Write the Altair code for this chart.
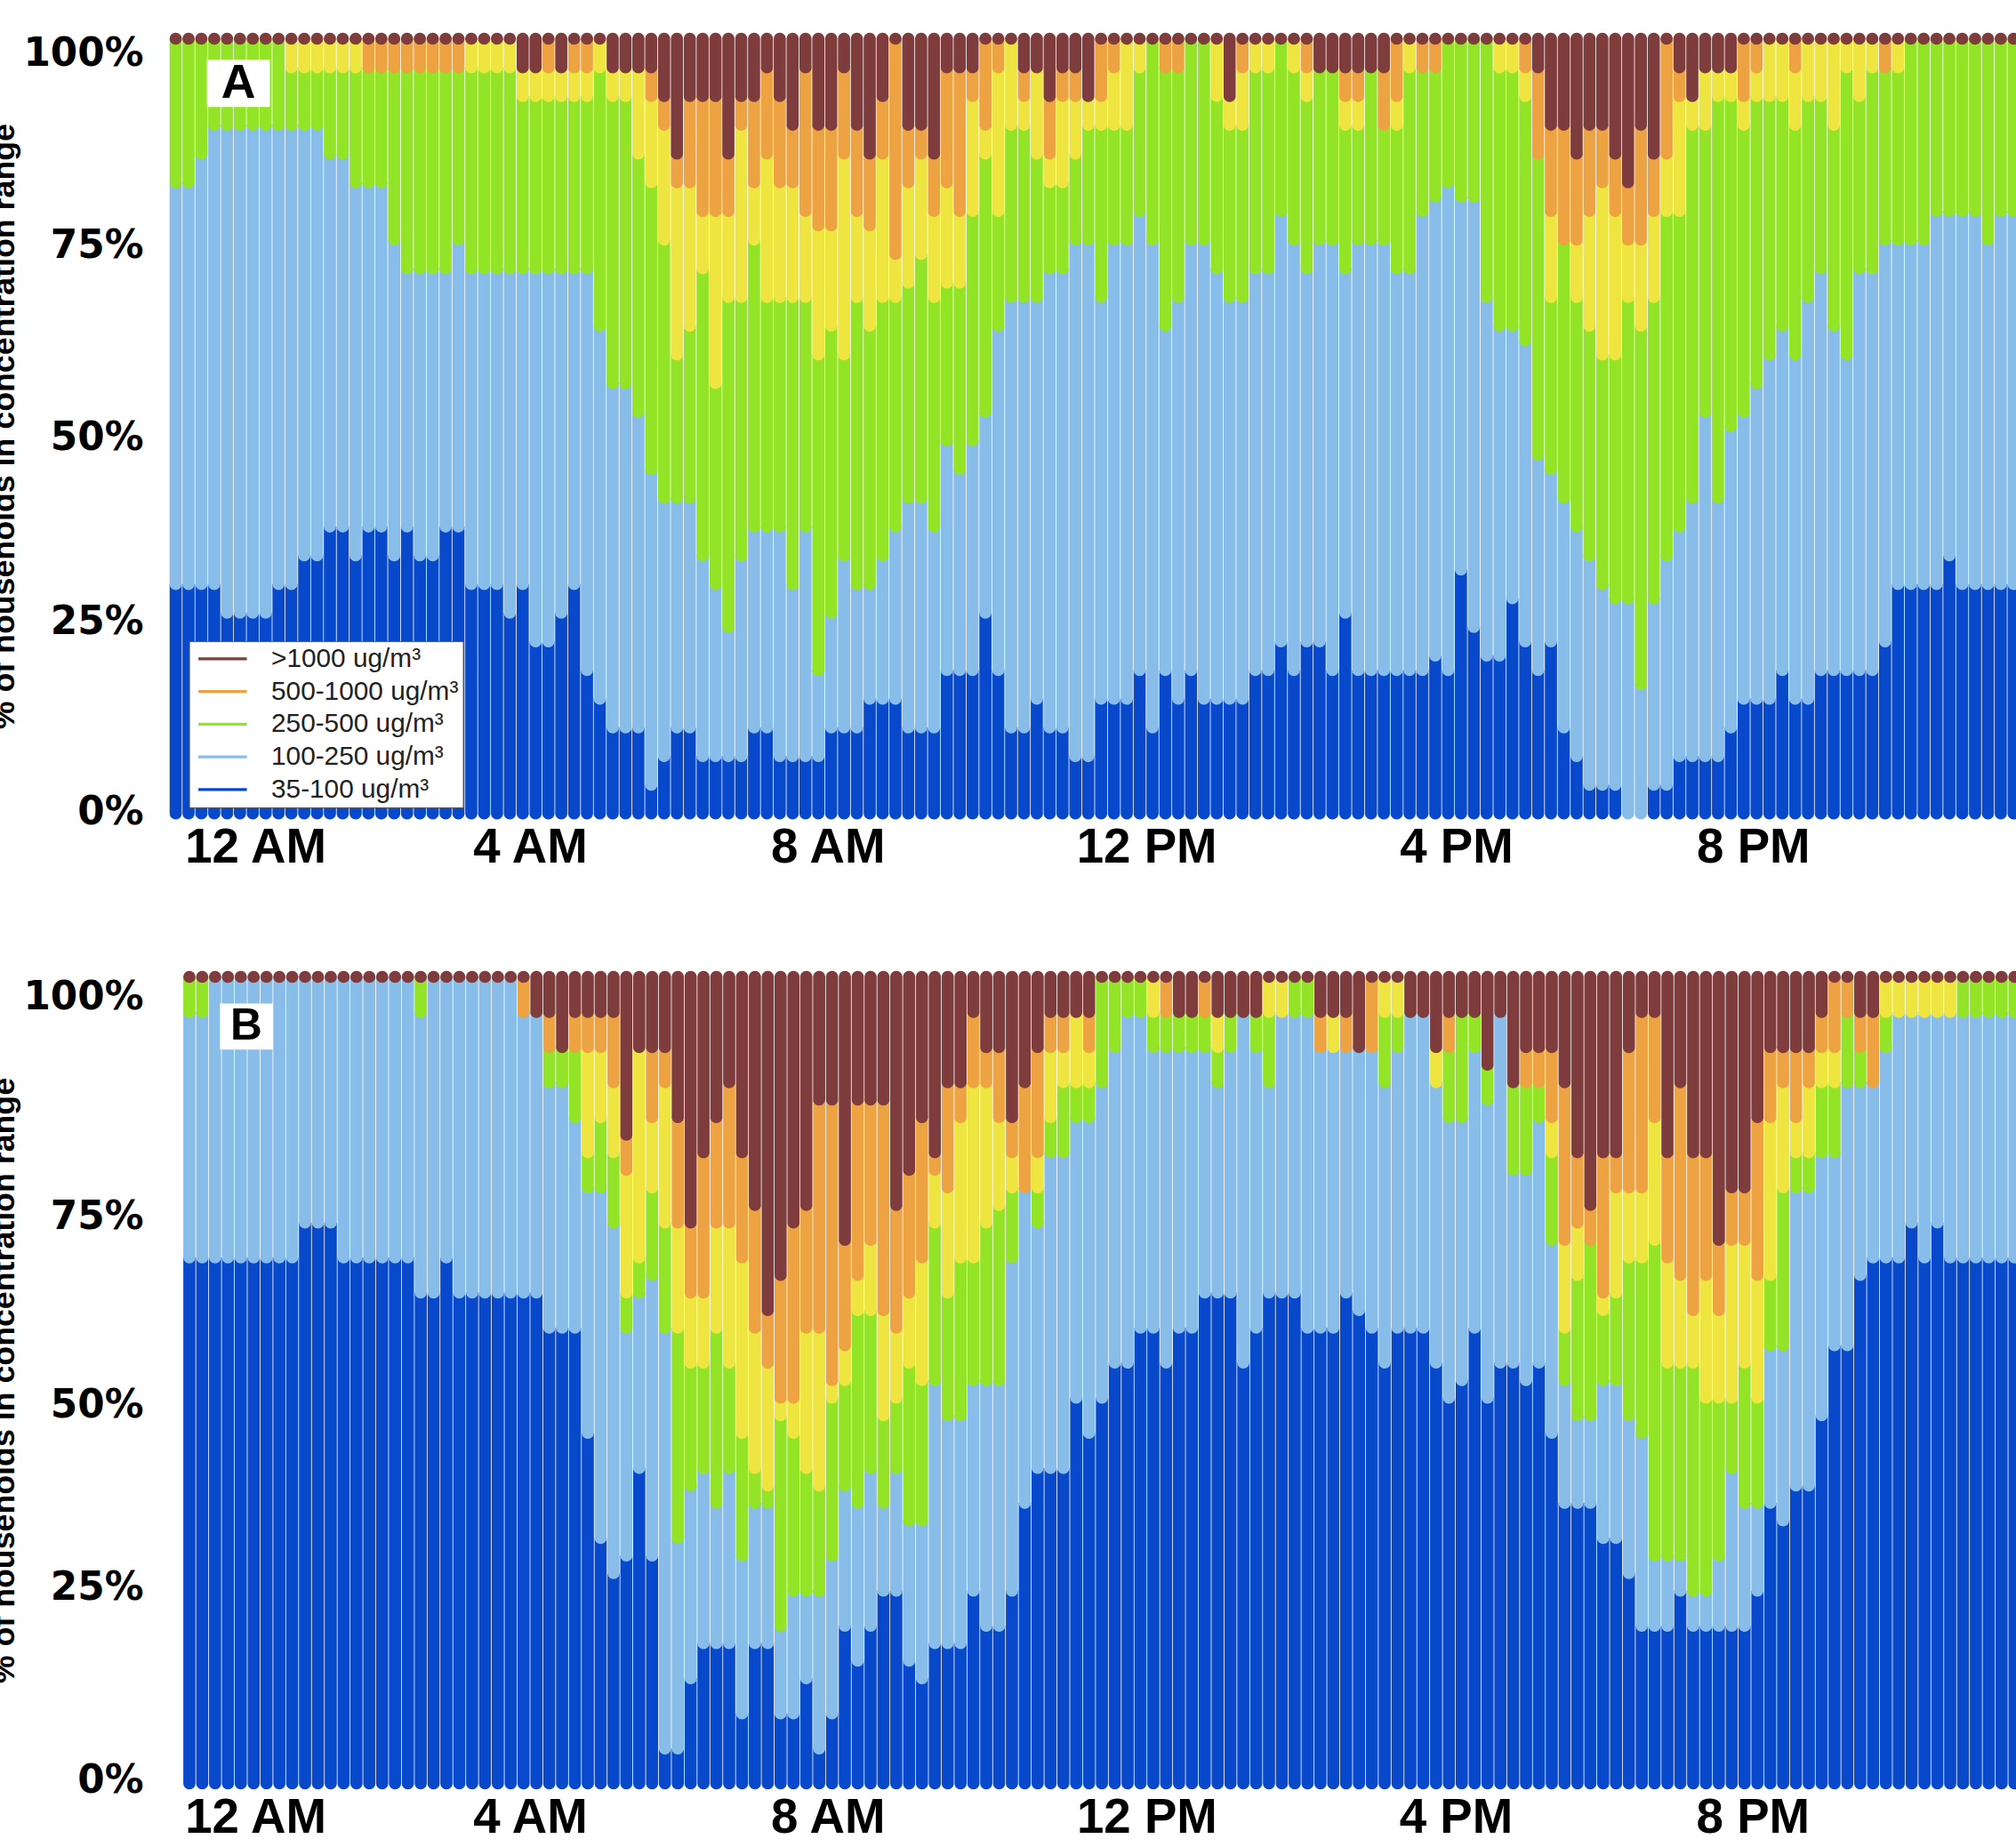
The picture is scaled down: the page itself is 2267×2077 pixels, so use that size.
import altair as alt
import numpy as np
import pandas as pd

SLOTS = 144            # 10-minute intervals over 24 h
N_A = 27               # households monitored, panel A
N_B = 23               # households monitored, panel B

CATEGORIES = ["35-100 ug/m³", "100-250 ug/m³", "250-500 ug/m³",
              "250-500 ug/m³ (upper)", "500-1000 ug/m³", ">1000 ug/m³"]
COLORS = ["#0849cc", "#88bde9", "#93e426", "#eee541", "#eda342", "#7e3c3c"]
LEGEND_VALUES = [">1000 ug/m³", "500-1000 ug/m³", "250-500 ug/m³",
                 "100-250 ug/m³", "35-100 ug/m³"]

X_LABELS = ["12 AM", "4 AM", "8 AM", "12 PM", "4 PM", "8 PM"]
Y_TITLE = "% of households in concentration range"

# ---- Panel A: cumulative household counts (top of each band), out of N_A ----
A_DB = ([8,8,8,8,7,7,7,7,8,8,9,9,10,10,9,10,10,9,10,9,9,10,10,8,8,8,7,8,6,6,7,8,5,4,3,3,3,1,2,3,3,2,2,2,2,3,3,2]
        + [2,2,2,3,3,3,4,4,4,3,3,3,5,5,5,7,5,3,3,4,3,3,2,2,4,4,4,5,3,5,4,5,4,4,4,4,5,5,6,5,6,6,5,7,5,5,5]
        + [5,5,5,5.5,5,8.5,6.5,5.5,5.5,7.5,6,5,6,3,2,1,1,1,0,0,1,1,2,2,2,2,3,4,4,4,5,4,4,5,5,5,5,5,6,8,8,8,8,9,8,8,8,8,8])
A_LB = ([22,22,23,24,24,24,24,24,24,24,24,24,23,23,22,22,22,20,19,19,19,19,20,19,19,19,19,19,19,19,19,19,19,17,15,15,14,12,11,11,11,9,8,6.5,9,10,10,10]
        + [8,10,5,7,9,8,8,9,10,11,11,10,13,12,13,14,17,18,18,18,19,19,20,20,18,20,20,21,20,17,18,20,20,19,18,18,19,19,21,20,19,20,20,19,20,20,20]
        + [19,19,21,21.5,22,21.5,21.5,18,17,17,16.5,12.5,12,11,10,9,8,7.5,7.5,4.5,7.5,9,10,11,14,11,13.5,14,15,16,17,16,18,19,17,16,19,19,20,20,20,20,21,21,21,21,20,21,21])
A_G = ([27]*9 + [26]*18 + [25,25,25,25,25,25,26,25,25,23,22,20,16,17,19,15,18,18,20,18,18]
       + [18,18,16,17,16,18,17,18,18,18.5,19.5,18,18.5,18.5,21,23,21,24,24,23,22,22,23,24,24,24,24,26,27,26,26,27,27,25,24,24,26,26,27,26,25,26,26,24,24,26,24]
       + [24,26,26,26,27,27,27,27,26,26,25,23,18,20,18,17,16,16,18,17,18,21,21,24,24,25,25,24,25,25,25,24,25,25,24,26,25,26,26,26,27,27,27,27,27,27,27,27,27])
A_Y = ([27]*15 + [26]*8 + [27]*4 + [26,26,26,26,26,26,27,26,26,26,25,24,22,22,21,21,21,24,22,23,22]
       + [22,21,20.5,20.5,23,21,20.5,23,19.5,22,23,21,22,21,25,24,26,27,25,26,23,25,25,25,25,26,27,27,27,26,26,27,27,27,25,26,27,27,27,27,26,26,26,25,25,26,24]
       + [25,27,26,26,27,27,27,27,27,27,26,23,21,20,20,21,22,21,20,20,21,23,25,25,26,26,26,25,26,27,27,26,27,27,27,27,27,27,26,27,27,27,27,27,27,27,27,27,27])
A_O = ([27]*27 + [26,26,27,26,27,27,27,26,26,26,26,25,23,25,25,25,23,25,25,26,25]
       + [24,26,24,24,26,24,23,25,27,24,24,23,26,26,26,27,27,27,26,26,25,26,26,25,27,27,27,27,27,27,27,27,27,27,25,27,27,27,27,27,27,26,26,26,26,26,26]
       + [27,27,27,27,27,27,27,27,27,27,27,26,24,24,23,24,24,23,22,24,23,27,26,25,26,26,26] + [27]*22)

# ---- Panel B: cumulative household counts (top of each band), out of N_B ----
B_DB = ([15]*9 + [16]*3 + [15]*6 + [14,14] + [15] + [14]*7 + [13]*3 + [10,7,6,6.5,9,6.5,1,1,3,4,4,4,2,4,4,2,2]
        + [3,1,2,4.5,3.5,4.5,5.5,5.5,3.5,3,4,4,4,5.5,4.5,4.5,5.5,8,9,9,9,11,10,11,12,12,13,13,12,13,13,14,14,14,12,13,14,14,14,13,13,13,14,13.5,13,12,13]
        + [13,13,12,11,11.5,13,11,12,12,11.5,12,10,8,8,8,7,7,6,4.5,4.5,4.5,5.5,4.5,4.5,4.5,4.5,4.5,5.5,8,7.5,8.5,8.5,10.5,12.5,12.5,14.5,15,15,15,16,15,16,15,15,15,15,15,15,15])
B_LB = ([22,22] + [23]*16 + [22] + [23]*7 + [22,22] + [20,20,19,17,17,16,13,14,14.5,13,7,8.5,9,8,9,6.5,8,8,4.5,5.5]
        + [5.5,5.5,6.5,8.5,8,9,8,9,7.5,7.5,11.5,10.5,10.5,11.5,11.5,11.5,15,17,16,18,18,19,19,20,21,22,22,21,21,21,21,21,20,21,22,21,20,22,22,22,21,21,21,21,21,20,21]
        + [22,22,20,19,19,21,19.5,22,17.5,17.5,19,15.5,11.5,10.5,10.5,11.5,11.5,10.5,10,6.5,6.5,6.5,5.5,5.5,6.5,9,8,8,12.5,12.5,17,17,18,18,20,20,20,21,22,22,22,22,22,22,22,22,22,22,22])
B_G = ([23]*26 + [22,22,21,21,21,18,19,18,14,15,17,16,13,12,12,13,12,10,9,8.5,10.5,10]
       + [9,8.5,11,11.5,13.5,13.5,10.5,11,12,11.5,16,14,15,15,16,16.5,17,17,17,19,20,20,20,23,23,23,23,22,22,22,22,22,21,22,22,22,22,22,23,23,21,21,21,21,21,22,22]
       + [22,22,20,21,22,22,20.5,22,20,20,20,18,13,14.5,15.5,13.5,14,15,15,15.5,12,12,12,11,11,11,12,11,14.5,17,18,18,20,20,22,21,20,22,22,22,22,22,22,23,23,23,23,23,23])
B_Y = ([23]*26 + [22,22,21,21,21,21,21,20,17.5,21,19,20,16,14,14,16,16,15,13,12,11,11]
       + [13,13,11.5,12.5,14.5,15.5,13.5,13,14,15,17.5,17,19,20,20,19,18,17,18,21,21,22,21,23,23,23,23,23,22,22,22,22,22,22,22,22,23,23,23,23,21,22,21,21,21,23,23]
       + [22,22,21,21,22,22,20.5,22,20,20,20,19,15.5,16,15.5,14,17,17,17,19,15,14.5,13.5,14.5,13.5,15.5,15.5,14.5,19,20,19,20,21,21,22,21,20] + [23]*12)
B_O = ([23]*27 + [22,22,21,22,22,22,22,18.5,21,21,21,19,16,18,19,20,18,16.5,13.5,14.5,16]
       + [16.5,19.5,19.5,15.5,19.5,19.5,19.5,16.5,17.5,19,18,20,20,22,21,21,19,20,21,22,22,22,22,23,23,23,23,23,23,22,22,23,22,22,22,22,23,23,23,23,22,22,22,21,23,23,23]
       + [22,22,21,22,22,22,20.5,22,20,21,21,21,20,18,16.5,18,18,21,22,22,18,20,18,18,15.5,17,17,19,21,21,21,21,22,23,23,22,22] + [23]*12)


def long_table(tops, n):
    rows = []
    lower = np.zeros(SLOTS)
    bounds = [np.asarray(t, dtype=float) for t in tops] + [np.full(SLOTS, float(n))]
    for rank, upper in enumerate(bounds):
        upper = np.maximum(upper, lower)
        for i in range(SLOTS):
            rows.append({"slot": i, "slot_end": i + 1, "range": CATEGORIES[rank], "rank": rank,
                         "lo": lower[i] * 100.0 / n, "hi": upper[i] * 100.0 / n})
        lower = upper
    return pd.DataFrame(rows)


df_a = long_table([A_DB, A_LB, A_G, A_Y, A_O], N_A)
df_b = long_table([B_DB, B_LB, B_G, B_Y, B_O], N_B)

WIDTH = 2095
R = 6.8
X_EXPR = ("datum.value < 15 ? '12 AM' : datum.value < 40 ? '4 AM' : datum.value < 63 ? '8 AM' : "
          "datum.value < 88 ? '12 PM' : datum.value < 112 ? '4 PM' : '8 PM'")


def panel(df, x_domain, x_ticks, y_ticks, height, box, letter, letter_size, legend):
    xaxis = alt.Axis(values=x_ticks, labelExpr=X_EXPR, title=None, ticks=False, domain=False,
                     grid=False, labelFont="Liberation Sans", labelFontWeight="bold",
                     labelFontSize=55, labelColor="black", labelPadding=12,
                     labelFlush=False, labelOverlap=False)
    yaxis = alt.Axis(values=y_ticks, labelExpr="round(datum.value / 25) * 25 + '%'",
                     title=Y_TITLE, titleFont="Liberation Sans", titleFontWeight="bold",
                     titleFontSize=36, titleColor="black", titlePadding=2,
                     ticks=False, domain=False, grid=False, labelFont="DejaVu Sans",
                     labelFontWeight="bold", labelFontSize=44, labelColor="black",
                     labelPadding=30, labelOverlap=False)
    xs = alt.Scale(domain=x_domain, nice=False, zero=False)
    ys = alt.Scale(domain=[0, 100], nice=False)

    def X():
        return alt.X("slot:Q", scale=xs, axis=xaxis)

    def Y():
        return alt.Y("hi:Q", scale=ys, axis=yaxis)

    color = alt.Color("range:N", scale=alt.Scale(domain=CATEGORIES, range=COLORS), legend=legend)
    base = alt.Chart(df).encode(x=X(), x2="slot_end:Q", y=Y(), y2="lo:Q", color=color)
    bands = base.transform_filter("datum.rank < 5 && datum.hi > datum.lo").mark_bar(
        cornerRadiusBottomLeft=R, cornerRadiusBottomRight=R, y2Offset=R, x2Offset=-0.8)
    top = base.transform_filter("datum.rank == 5").mark_bar(
        cornerRadius=R, yOffset=-R, y2Offset=R, x2Offset=-0.8)
    box_df = pd.DataFrame([{"slot": box[0], "slot_end": box[1], "lo": box[2], "hi": box[3]}])
    box_layer = alt.Chart(box_df).mark_rect(color="white").encode(
        x=X(), x2="slot_end:Q", y=Y(), y2="lo:Q")
    letter_df = pd.DataFrame([{"slot": letter[0], "hi": letter[1], "t": letter[2]}])
    letter_layer = alt.Chart(letter_df).mark_text(
        font="Liberation Sans", fontWeight="bold", fontSize=letter_size, color="black",
        baseline="middle", align="center").encode(x=X(), y=Y(), text="t:N")
    return alt.layer(bands, top, box_layer, letter_layer).properties(width=WIDTH, height=height)


legend_a = alt.Legend(values=LEGEND_VALUES, orient="none", legendX=22, legendY=682, title=None,
                      symbolType="M-1.83,-0.11L1.83,-0.11L1.83,0.11L-1.83,0.11Z", symbolSize=900,
                      symbolStrokeWidth=0, symbolOpacity=1, symbolOffset=18,
                      labelFont="Liberation Sans", labelFontSize=30, labelColor="#222",
                      labelOffset=40, labelLimit=500,
                      fillColor="white", strokeColor="#555", padding=5, rowPadding=7)

panel_a = panel(df_a, [0, 144], [6.67, 28.04, 51.2, 76.0, 100.1, 123.2],
                [0.1, 24.7, 48.5, 73.3, 98.1], 877,
                (2.9, 7.8, 91.2, 97.3), (5.35, 94.2, "A"), 54, legend_a)
panel_b = panel(df_b, [-1.065, 142.935], [5.6, 26.98, 50.14, 74.95, 99.0, 122.1],
                [0.3, 24.3, 46.9, 70.2, 97.5], 913,
                (2.85, 6.98, 91.0, 96.7), (4.9, 93.85, "B"), 50, None)

chart = (
    alt.vconcat(panel_a, panel_b, spacing=112)
    .resolve_scale(color="independent")
    .resolve_legend(color="independent")
    .properties(padding={"left": -13, "top": 30, "right": -20, "bottom": -6}, background="white")
    .configure_view(stroke=None)
)

chart.save("out.html", embed_options={"renderer": "svg", "actions": False})
